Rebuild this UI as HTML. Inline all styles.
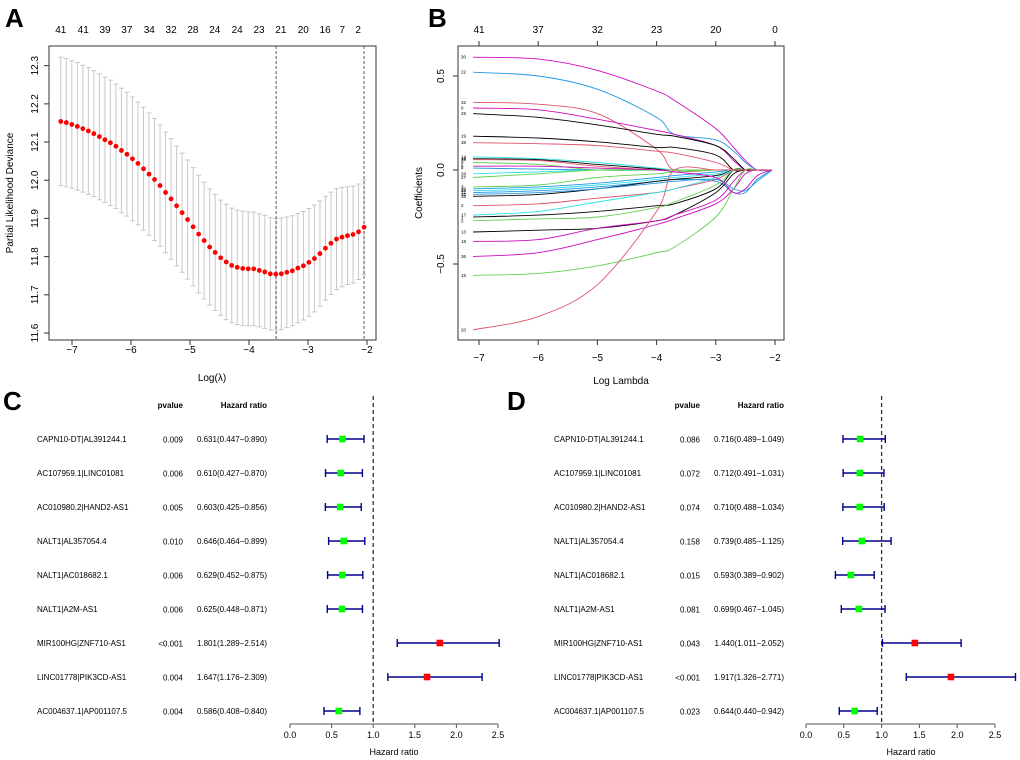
<!DOCTYPE html>
<html><head><meta charset="utf-8">
<style>
html,body{margin:0;padding:0;background:#fff;}
svg{display:block;font-family:"Liberation Sans",Arial,sans-serif;}
</style></head>
<body>
<svg id="fig" width="1020" height="760" viewBox="0 0 1020 760"></svg>
<script>
// ---------- Panel A data ----------
const aLogLambda0 = -7.19, aLogLambdaEnd = -2.05;
const aDeviance = [12.154,12.151,12.146,12.141,12.135,12.129,12.122,12.114,12.106,12.098,12.089,12.078,12.068,12.056,12.044,12.030,12.016,12.002,11.986,11.968,11.951,11.933,11.915,11.897,11.878,11.859,11.842,11.825,11.811,11.797,11.786,11.777,11.772,11.769,11.768,11.768,11.764,11.760,11.755,11.754,11.755,11.759,11.763,11.770,11.776,11.785,11.795,11.808,11.822,11.835,11.846,11.851,11.855,11.858,11.865,11.877];
const aHalfWidth = [0.168,0.168,0.167,0.167,0.166,0.166,0.165,0.165,0.164,0.164,0.163,0.163,0.162,0.162,0.161,0.161,0.160,0.160,0.159,0.158,0.158,0.157,0.156,0.156,0.155,0.154,0.153,0.152,0.152,0.151,0.151,0.150,0.150,0.150,0.149,0.149,0.148,0.148,0.147,0.146,0.146,0.145,0.144,0.143,0.142,0.141,0.140,0.138,0.136,0.134,0.132,0.130,0.128,0.127,0.125,0.124];
const aTopLabels = ["41","41","39","37","34","32","28","24","24","23","21","20","16","7","2"];
const aTopPos = [-7.19,-6.81,-6.44,-6.07,-5.69,-5.32,-4.95,-4.58,-4.20,-3.83,-3.46,-3.08,-2.71,-2.42,-2.15];
const aXTicks = [-7,-6,-5,-4,-3,-2];
const aYTicks = [11.6,11.7,11.8,11.9,12.0,12.1,12.2,12.3];
const aVLines = [-3.54,-2.05];

// ---------- Panel B data ----------
const bGrid = [-7.1,-6,-5,-4,-3.7,-3,-2.7,-2.5,-2.3,-2.05];
const bTopLabels = ["41","37","32","23","20","0"];
const bTopPos = [-7,-6,-5,-4,-3,-2];
const bXTicks = [-7,-6,-5,-4,-3,-2];
const bYTicks = [-0.5,0.0,0.5];
const bPathLabels = ["30","22","32","6","25","19","38","14","12","33","9","4","28","27","3","26","31","34","35","2","17","1","5","13","18","36","15","20","40","8"];
const bPathColors = ["#CD0BBC","#2297E6","#DF536B","#CD0BBC","#000000","#000000","#DF536B","#28E2E5","#000000","#DF536B","#61D04F","#2297E6","#28E2E5","#61D04F","#61D04F","#2297E6","#2297E6","#28E2E5","#000000","#DF536B","#28E2E5","#000000","#61D04F","#000000","#CD0BBC","#CD0BBC","#61D04F","#DF536B","#2297E6","#CD0BBC"];
const bPaths = [
 [0.60,0.59,0.53,0.42,0.37,0.22,0.12,0.05,0,0],
 [0.52,0.50,0.43,0.28,0.19,0.16,0.10,0.04,0,0],
 [0.36,0.35,0.30,0.11,0,0,0,0,0,0],
 [0.33,0.32,0.27,0.21,0.19,0.13,0.05,0,0,0],
 [0.30,0.28,0.24,0.19,0.18,0.13,0.06,0,0,0],
 [0.18,0.17,0.15,0.12,0.12,0.08,0,0,0,0],
 [0.145,0.14,0.13,0.10,0.09,0.04,0,0,0,0],
 [0.07,0.06,0.04,0.01,0,0,0,0,0,0],
 [0.06,0.055,0.03,0.005,0,0,0,0,0,0],
 [0.055,0.05,0.02,0,0,0,0,0,0,0],
 [0.04,0.03,0,0,0,0,0,0,0,0],
 [0.01,0.005,0,0,0,0,0,0,0,0],
 [-0.02,-0.01,0,0,0,0,0,0,0,0],
 [-0.04,-0.02,0,0,0,0,0,0,0,0],
 [-0.09,-0.08,-0.04,-0.02,-0.01,0,0,0,0,0],
 [-0.10,-0.09,-0.07,-0.04,-0.03,-0.01,0,0,0,0],
 [-0.12,-0.11,-0.09,-0.06,-0.05,-0.06,-0.12,-0.12,-0.05,0],
 [-0.11,-0.10,-0.08,-0.05,-0.04,-0.02,0,0,0,0],
 [-0.14,-0.13,-0.10,-0.06,-0.05,-0.03,0,0,0,0],
 [-0.19,-0.18,-0.15,-0.12,-0.10,-0.05,0,0,0,0],
 [-0.24,-0.22,-0.17,-0.12,-0.10,-0.04,0,0,0,0],
 [-0.25,-0.24,-0.22,-0.19,-0.18,-0.10,0,0,0,0],
 [-0.27,-0.26,-0.25,-0.20,-0.17,-0.08,0,0,0,0],
 [-0.33,-0.32,-0.31,-0.27,-0.24,-0.12,-0.02,0,0,0],
 [-0.38,-0.37,-0.31,-0.27,-0.24,-0.16,-0.06,0,0,0],
 [-0.46,-0.44,-0.37,-0.29,-0.26,-0.18,-0.10,-0.02,0,0],
 [-0.56,-0.55,-0.51,-0.44,-0.41,-0.25,-0.10,0,0,0],
 [-0.85,-0.78,-0.61,-0.22,0,0,0,0,0,0],
 [-0.13,-0.12,-0.10,-0.07,-0.06,-0.05,-0.10,-0.11,-0.06,0],
 [0.02,0.02,0.01,0,-0.01,-0.04,-0.12,-0.10,-0.03,0]
];

// ---------- Panel C / D data ----------
const fNames = ["CAPN10-DT|AL391244.1","AC107959.1|LINC01081","AC010980.2|HAND2-AS1","NALT1|AL357054.4","NALT1|AC018682.1","NALT1|A2M-AS1","MIR100HG|ZNF710-AS1","LINC01778|PIK3CD-AS1","AC004637.1|AP001107.5"];
const cP = ["0.009","0.006","0.005","0.010","0.006","0.006","<0.001","0.004","0.004"];
const cHR = [0.631,0.610,0.603,0.646,0.629,0.625,1.801,1.647,0.586];
const cLo = [0.447,0.427,0.425,0.464,0.452,0.448,1.289,1.176,0.408];
const cHi = [0.890,0.870,0.856,0.899,0.875,0.871,2.514,2.309,0.840];
const dP = ["0.086","0.072","0.074","0.158","0.015","0.081","0.043","<0.001","0.023"];
const dHR = [0.716,0.712,0.710,0.739,0.593,0.699,1.440,1.917,0.644];
const dLo = [0.489,0.491,0.488,0.485,0.389,0.467,1.011,1.326,0.440];
const dHi = [1.049,1.031,1.034,1.125,0.902,1.045,2.052,2.771,0.942];
const fTicks = [0.0,0.5,1.0,1.5,2.0,2.5];

const NS="http://www.w3.org/2000/svg";
const svg=document.getElementById('fig');
function mk(tag,attrs,parent,text){const e=document.createElementNS(NS,tag);for(const k in attrs)e.setAttribute(k,attrs[k]);if(text!==undefined)e.textContent=text;(parent||svg).appendChild(e);return e;}
function fx(v){return v.toFixed(1);}
function smooth(pts){
 let d='M'+pts[0][0].toFixed(1)+','+pts[0][1].toFixed(1);
 for(let i=0;i<pts.length-1;i++){
  const p0=pts[Math.max(0,i-1)],p1=pts[i],p2=pts[i+1],p3=pts[Math.min(pts.length-1,i+2)];
  const c1=[p1[0]+(p2[0]-p0[0])/6,p1[1]+(p2[1]-p0[1])/6];
  const c2=[p2[0]-(p3[0]-p1[0])/6,p2[1]-(p3[1]-p1[1])/6];
  d+=`C${c1[0].toFixed(1)},${c1[1].toFixed(1)} ${c2[0].toFixed(1)},${c2[1].toFixed(1)} ${p2[0].toFixed(1)},${p2[1].toFixed(1)}`;
 }
 return d;
}

// ---------- Panel A ----------
{
 const g=mk('g',{});
 
 
 const X=v=>72+(v+7)*59, Y=v=>333-(v-11.6)*381.9;
 const t=mk('text',{x:5,y:27,'font-size':26,'font-weight':'bold'},g,'A');
 
 const box=mk('rect',{x:49,y:46,width:327,height:294,fill:'none',stroke:'#333','stroke-width':1},g);
 
 const n=aDeviance.length, step=(aLogLambdaEnd-aLogLambda0)/(n-1);
 for(let i=0;i<n;i++){
  const lx=X(aLogLambda0+i*step), yu=Y(aDeviance[i]+aHalfWidth[i]), yl=Y(aDeviance[i]-aHalfWidth[i]);
  const eb=mk('path',{d:`M${lx},${yu}V${yl}M${lx-2.5},${yu}H${lx+2.5}M${lx-2.5},${yl}H${lx+2.5}`,stroke:'#c8c8c8','stroke-width':1,fill:'none'},g);
  
 }
 aVLines.forEach(v=>{const l=mk('line',{x1:X(v),x2:X(v),y1:46,y2:340,stroke:'#555','stroke-dasharray':'3,2','stroke-width':1},g);
  });
 for(let i=0;i<n;i++){
  const c=mk('circle',{cx:X(aLogLambda0+i*step),cy:Y(aDeviance[i]),r:2.4,fill:'#ff0000'},g);
  
 }
 aXTicks.forEach(v=>{mk('line',{x1:X(v),x2:X(v),y1:340,y2:345,stroke:'#333'},g);
  const tt=mk('text',{x:X(v),y:353,'font-size':10,'text-anchor':'middle'},g,'\u2212'+Math.abs(v));
  });
 aYTicks.forEach(v=>{mk('line',{x1:44,x2:49,y1:Y(v),y2:Y(v),stroke:'#333'},g);
  const tt=mk('text',{x:38,y:Y(v),'font-size':10,'text-anchor':'middle',transform:`rotate(-90 38 ${Y(v)})`},g,fx(v));
  });
 aTopLabels.forEach((s,i)=>{const tt=mk('text',{x:X(aTopPos[i]),y:33,'font-size':10,'text-anchor':'middle'},g,s);
  });
 const yt=mk('text',{x:13,y:193,'font-size':10,'text-anchor':'middle',transform:'rotate(-90 13 193)'},g,'Partial Likelihood Deviance');
 
 const xt=mk('text',{x:212,y:381,'font-size':10,'text-anchor':'middle'},g,'Log(\u03bb)');
 
}

// ---------- Panel B ----------
{
 const g=mk('g',{});
 
 
 const X=v=>479+(v+7)*59.2, Y=v=>170-v*188;
 const t=mk('text',{x:428,y:27,'font-size':26,'font-weight':'bold'},g,'B');
 
 const box=mk('rect',{x:458,y:46,width:326,height:294,fill:'none',stroke:'#333','stroke-width':1},g);
 
 bPaths.forEach((p,i)=>{
  const pts=p.map((v,j)=>[X(bGrid[j]),Y(v)]);
  const l=mk('path',{d:smooth(pts),fill:'none',stroke:bPathColors[i],'stroke-width':0.9},g);
  
  const tl=mk('text',{x:461,y:Y(p[0])+1.5,'font-size':4.5},g,bPathLabels[i]);
  
 });
 bXTicks.forEach(v=>{mk('line',{x1:X(v),x2:X(v),y1:340,y2:345,stroke:'#333'},g);
  const tt=mk('text',{x:X(v),y:361,'font-size':10,'text-anchor':'middle'},g,'\u2212'+Math.abs(v));
  });
 bYTicks.forEach(v=>{mk('line',{x1:453,x2:458,y1:Y(v),y2:Y(v),stroke:'#333'},g);
  const s=v<0?'\u2212'+fx(-v):fx(v);
  const tt=mk('text',{x:444,y:Y(v),'font-size':10,'text-anchor':'middle',transform:`rotate(-90 444 ${Y(v)})`},g,s);
  });
 bTopLabels.forEach((s,i)=>{mk('line',{x1:X(bTopPos[i]),x2:X(bTopPos[i]),y1:41,y2:46,stroke:'#333'},g);
  const tt=mk('text',{x:X(bTopPos[i]),y:33,'font-size':10,'text-anchor':'middle'},g,s);
  });
 const yt=mk('text',{x:422,y:193,'font-size':10,'text-anchor':'middle',transform:'rotate(-90 422 193)'},g,'Coefficients');
 
 const xt=mk('text',{x:621,y:384,'font-size':10,'text-anchor':'middle'},g,'Log Lambda');
 
}

// ---------- Forest plots ----------
function forest(cfg,pv,hr,lo,hi){
 const g=mk('g',{});
 
 
 const X=v=>cfg.x0+v*cfg.scale;
 const t=mk('text',{x:cfg.lx,y:410,'font-size':26,'font-weight':'bold'},g,cfg.letter);
 
 const h1=mk('text',{x:cfg.pvx,y:408,'font-size':8,'font-weight':'bold','text-anchor':'end'},g,'pvalue');
 
 const h2=mk('text',{x:cfg.hrx,y:408,'font-size':8,'font-weight':'bold','text-anchor':'end'},g,'Hazard ratio');
 
 const ref=mk('line',{x1:X(1),x2:X(1),y1:396,y2:724,stroke:'#333','stroke-width':1.3,'stroke-dasharray':'4,3'},g);
 
 fNames.forEach((nm,i)=>{
  const y=439+i*34;
  const a=mk('text',{x:cfg.nx,y:y+3,'font-size':8},g,nm);
  
  const b=mk('text',{x:cfg.pvx,y:y+3.5,'font-size':8,'text-anchor':'end'},g,pv[i]);
  
  const c=mk('text',{x:cfg.hrx,y:y+3,'font-size':8,'text-anchor':'end'},g,hr[i].toFixed(3)+'('+lo[i].toFixed(3)+'\u2212'+hi[i].toFixed(3)+')');
  
  const x1=X(lo[i]),x2=Math.min(X(hi[i]),cfg.maxx);
  const ci=mk('path',{d:`M${x1},${y}H${x2}M${x1},${y-4}V${y+4}`+(X(hi[i])<=cfg.maxx?`M${x2},${y-4}V${y+4}`:''),stroke:'#00008B','stroke-width':1.4,fill:'none'},g);
  
  const sq=mk('rect',{x:X(hr[i])-3.3,y:y-3.3,width:6.6,height:6.6,fill:hr[i]>1?'#ff0000':'#00ff00'},g);
  
 });
 const ax=mk('line',{x1:X(0),x2:X(2.5),y1:724,y2:724,stroke:'#555'},g);
 
 fTicks.forEach(v=>{mk('line',{x1:X(v),x2:X(v),y1:724,y2:728,stroke:'#555'},g);
  const tt=mk('text',{x:X(v),y:738,'font-size':9,'text-anchor':'middle'},g,fx(v));
  });
 const xt=mk('text',{x:cfg.axtx,y:755,'font-size':9,'text-anchor':'middle'},g,'Hazard ratio');
 
}
forest({name:'panel-c-forest-univariate',letter:'C',lx:3,nx:37,pvx:183,hrx:267,x0:290,scale:83.2,maxx:1020,axtx:394},cP,cHR,cLo,cHi);
forest({name:'panel-d-forest-multivariate',letter:'D',lx:507,nx:554,pvx:700,hrx:784,x0:806,scale:75.6,maxx:1016,axtx:911},dP,dHR,dLo,dHi);
</script>
</body></html>
